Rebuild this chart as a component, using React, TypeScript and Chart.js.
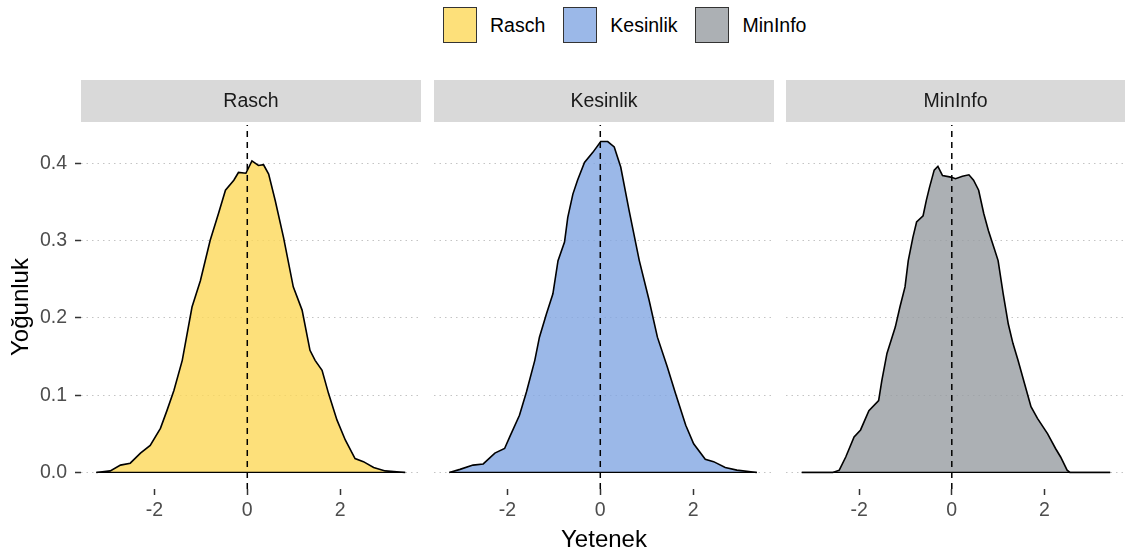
import React, { useEffect, useRef } from "react";
import { Chart, registerables } from "chart.js";

Chart.register(...registerables);

// ---- data ----
const panelNames = ["Rasch", "Kesinlik", "MinInfo"];

const raschX = [-3.25, -2.95, -2.73, -2.52, -2.3, -2.09, -1.87, -1.73, -1.58, -1.4, -1.19, -1.01, -0.8, -0.62, -0.47, -0.29, -0.19, -0.03, 0.1, 0.24, 0.35, 0.46, 0.6, 0.78, 0.99, 1.18, 1.35, 1.46, 1.61, 1.75, 1.93, 2.11, 2.32, 2.5, 2.72, 2.97, 3.4];
const raschY = [0, 0.002, 0.0095, 0.012, 0.025, 0.035, 0.057, 0.08, 0.106, 0.145, 0.214, 0.248, 0.3, 0.335, 0.365, 0.378, 0.388, 0.387, 0.403, 0.397, 0.398, 0.386, 0.352, 0.304, 0.24, 0.21, 0.158, 0.145, 0.132, 0.102, 0.068, 0.042, 0.018, 0.014, 0.0065, 0.002, 0];

const kesinlikX = [-3.25, -3.02, -2.74, -2.52, -2.27, -2.06, -1.95, -1.74, -1.59, -1.41, -1.31, -1.16, -1.02, -0.91, -0.77, -0.7, -0.59, -0.49, -0.34, -0.16, 0.01, 0.16, 0.3, 0.44, 0.62, 0.84, 1.05, 1.23, 1.44, 1.62, 1.84, 2.01, 2.26, 2.44, 2.69, 2.94, 3.37];
const kesinlikY = [0, 0.004, 0.0095, 0.011, 0.025, 0.031, 0.046, 0.074, 0.104, 0.145, 0.175, 0.205, 0.231, 0.274, 0.298, 0.33, 0.36, 0.378, 0.401, 0.414, 0.428, 0.428, 0.421, 0.395, 0.339, 0.274, 0.223, 0.175, 0.137, 0.102, 0.061, 0.037, 0.017, 0.014, 0.0065, 0.003, 0];

const minInfoX = [-3.24, -2.57, -2.43, -2.29, -2.11, -1.97, -1.79, -1.58, -1.51, -1.4, -1.22, -1.12, -1.01, -0.94, -0.84, -0.76, -0.62, -0.55, -0.48, -0.38, -0.3, -0.2, -0.02, 0.08, 0.23, 0.37, 0.47, 0.58, 0.69, 0.79, 0.93, 1.0, 1.11, 1.22, 1.32, 1.43, 1.57, 1.71, 1.85, 2.07, 2.24, 2.35, 2.49, 2.55, 3.42];
const minInfoY = [0, 0, 0.003, 0.02, 0.046, 0.055, 0.08, 0.093, 0.119, 0.154, 0.188, 0.214, 0.24, 0.274, 0.304, 0.324, 0.332, 0.352, 0.369, 0.391, 0.396, 0.384, 0.382, 0.38, 0.383, 0.385, 0.378, 0.365, 0.335, 0.313, 0.287, 0.274, 0.231, 0.192, 0.167, 0.145, 0.115, 0.085, 0.07, 0.05, 0.031, 0.02, 0.003, 0, 0];

const seriesX = [raschX, kesinlikX, minInfoX];
const seriesY = [raschY, kesinlikY, minInfoY];

const fillColors = ["rgba(252,216,89,0.8)", "rgba(130,166,226,0.8)", "rgba(151,156,161,0.8)"];

const xTickValues = [-2, 0, 2];
const yTickValues = [0, 0.1, 0.2, 0.3, 0.4];
const referenceX = 0;

const xAxisTitle = "Yetenek";
const yAxisTitle = "Yoğunluk";

// ---- layout ----
const X_MIN = -3.58;
const X_MAX = 3.74;
const Y_MIN = -0.0214;
const Y_MAX = 0.4494;
const FONT = "'Liberation Sans', Arial, Helvetica, sans-serif";
const PANEL_TOP = 80;
const CANVAS_H = 479;
const panelLayout = [
  { left: 0, width: 421 },
  { left: 434, width: 340 },
  { left: 786, width: 339 },
];

const stripPlugin = {
  id: "strip",
  beforeDraw(chart: any) {
    const { ctx, chartArea } = chart;
    ctx.save();
    ctx.fillStyle = "#D9D9D9";
    ctx.fillRect(chartArea.left, 0, chartArea.right - chartArea.left, 42);
    ctx.restore();
  },
};

function Panel({ index }: { index: number }) {
  const ref = useRef<HTMLCanvasElement>(null);
  const { left, width } = panelLayout[index];
  useEffect(() => {
    const xs = seriesX[index];
    const ys = seriesY[index];
    const first = index === 0;
    const curve = xs.map((x, i) => ({ x, y: ys[i] }));
    const chart = new Chart(ref.current as HTMLCanvasElement, {
      type: "line",
      data: {
        datasets: [
          {
            data: [
              { x: referenceX, y: Y_MIN },
              { x: referenceX, y: Y_MAX },
            ],
            borderColor: "#000",
            borderWidth: 1.5,
            borderDash: [6, 5],
            pointRadius: 0,
            fill: false,
          },
          {
            data: [
              { x: xs[0], y: 0 },
              { x: xs[xs.length - 1], y: 0 },
            ],
            borderColor: "#000",
            borderWidth: 1.3,
            pointRadius: 0,
            fill: false,
          },
          {
            data: curve,
            borderColor: "#000",
            borderWidth: 1.6,
            pointRadius: 0,
            fill: "origin",
            backgroundColor: fillColors[index],
            tension: 0,
          },
        ],
      },
      options: {
        responsive: false,
        maintainAspectRatio: false,
        animation: false,
        layout: { padding: 0 },
        plugins: {
          legend: { display: false },
          tooltip: { enabled: false },
          title: {
            display: true,
            text: panelNames[index],
            fullSize: false,
            color: "#1A1A1A",
            font: { family: FONT, size: 19.5, weight: "normal", lineHeight: 1.2 },
            padding: { top: 10, bottom: 11.6 },
          },
        },
        scales: {
          x: {
            type: "linear",
            min: X_MIN,
            max: X_MAX,
            afterBuildTicks: (s: any) => {
              s.ticks = xTickValues.map((v) => ({ value: v }));
            },
            afterFit: (s: any) => {
              s.height = 70;
            },
            grid: {
              drawOnChartArea: false,
              drawTicks: true,
              tickLength: 6,
              tickColor: "#333333",
              tickWidth: 1.5,
            },
            border: { display: false },
            ticks: {
              color: "#4D4D4D",
              font: { family: FONT, size: 19.5 },
              padding: 4,
              maxRotation: 0,
              autoSkip: false,
              callback: (v: any) => String(v),
            },
            title: {
              display: index === 1,
              text: xAxisTitle,
              color: "#000",
              font: { family: FONT, size: 24, lineHeight: 1.2 },
              padding: { top: 0, bottom: 4 },
            },
          },
          y: {
            min: Y_MIN,
            max: Y_MAX,
            afterBuildTicks: (s: any) => {
              s.ticks = yTickValues.map((v) => ({ value: v }));
            },
            afterFit: (s: any) => {
              s.width = first ? 81 : 0;
            },
            grid: {
              color: "#C4C4C4",
              lineWidth: 1,
              drawTicks: first,
              tickLength: 6,
              tickColor: "#333333",
              tickWidth: 1.5,
              tickBorderDash: [1, 0],
            },
            border: { display: false, dash: [1.5, 4] },
            ticks: {
              display: first,
              color: "#4D4D4D",
              font: { family: FONT, size: 19.5 },
              padding: 8,
              callback: (v: any) => Number(v).toFixed(1),
            },
            title: {
              display: first,
              text: yAxisTitle,
              color: "#000",
              font: { family: FONT, size: 24, lineHeight: 1.2 },
              padding: { top: 7, bottom: 7 },
            },
          },
        },
      } as any,
      plugins: [stripPlugin],
    });
    return () => chart.destroy();
  }, [index]);
  return (
    <canvas
      ref={ref}
      width={width}
      height={CANVAS_H}
      style={{ position: "absolute", left, top: PANEL_TOP, width, height: CANVAS_H }}
    />
  );
}

function Legend() {
  return (
    <div
      style={{
        position: "absolute",
        left: 443,
        top: 7,
        height: 36,
        display: "flex",
        alignItems: "center",
        fontFamily: FONT,
        fontSize: 19.5,
        color: "#000",
      }}
    >
      {panelNames.map((name, i) => (
        <div key={name} style={{ display: "flex", alignItems: "center", marginRight: 18 }}>
          <div
            style={{
              width: 34,
              height: 36,
              boxSizing: "border-box",
              border: "1.5px solid #333",
              background: fillColors[i],
              marginRight: 13,
            }}
          />
          <span>{name}</span>
        </div>
      ))}
    </div>
  );
}

export default function App() {
  return (
    <div
      style={{
        position: "fixed",
        left: 0,
        top: 0,
        width: 1125,
        height: 559,
        background: "#fff",
        overflow: "hidden",
      }}
    >
      <Legend />
      {panelNames.map((_, i) => (
        <Panel key={i} index={i} />
      ))}
    </div>
  );
}
